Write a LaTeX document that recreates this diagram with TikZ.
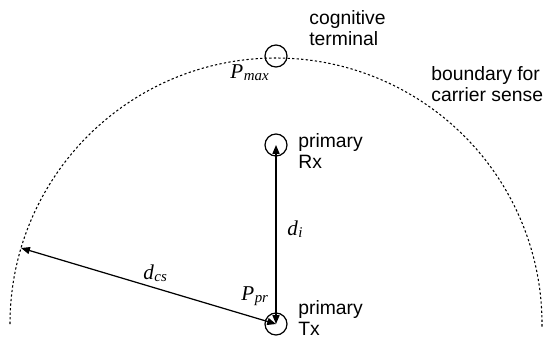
\documentclass[tikz,border=0pt]{standalone}
\usepackage{fontspec}
\setmainfont{Liberation Sans}
\newfontfamily\tms{Liberation Serif}
\usetikzlibrary{arrows.meta}
\newcommand{\lbl}[2]{{\tms\itshape #1\kern0.3pt\raisebox{-1.2pt}{\fontsize{8.5}{8.5}\selectfont #2}}}
\tikzset{
  station/.style={draw, circle, line width=0.7pt, minimum size=0.44cm, inner sep=0pt},
  span/.style={line width=0.7pt, {Triangle[length=5pt,width=4pt]}-{Triangle[length=5pt,width=4pt]}},
  txt/.style={font=\fontsize{11}{11.7}\selectfont, align=left, inner sep=0pt, anchor=base west},
  sym/.style={font=\fontsize{12}{13}\selectfont, inner sep=0pt, anchor=base west},
}
\begin{document}
\begin{tikzpicture}[x=0.02cm, y=0.02cm]
			\useasboundingbox (0,0) rectangle (543,336);
			\coordinate (C) at (276,12);
			% boundary for carrier sense
			\draw[line width=0.6pt, dash pattern=on 1.3pt off 1.3pt] (C) ++(180:266) arc (180:-1:266);
			\path (C) ++(163.4:266) coordinate (rim);
			\node[station] (cog) at (276,280) {};
			\node[station] (rx) at (276,191) {};
			\node[station] (tx) at (C) {};
			\draw[span] (tx.center) -- (rim);
			\draw[span] (rx.center) -- (tx.center);
			% texts (base = last line)
			\node[txt] (coglbl) at (309,291) {cognitive\\terminal};
			\node[txt] (bndlbl) at (431,235) {boundary for\\carrier sense};
			\node[txt] (rxlbl) at (298,168) {primary\\Rx};
			\node[txt] (txlbl) at (298,1) {primary\\Tx};
			\node[sym] (pmax) at (230,258) {\lbl{P}{max}};
			\node[sym] (ppr) at (241,36) {\lbl{P}{pr}};
			\node[sym] (di) at (287,101) {\lbl{d}{i}};
			\node[sym] (dcs) at (143,57) {\lbl{d}{cs}};
		\end{tikzpicture}
\end{document}
